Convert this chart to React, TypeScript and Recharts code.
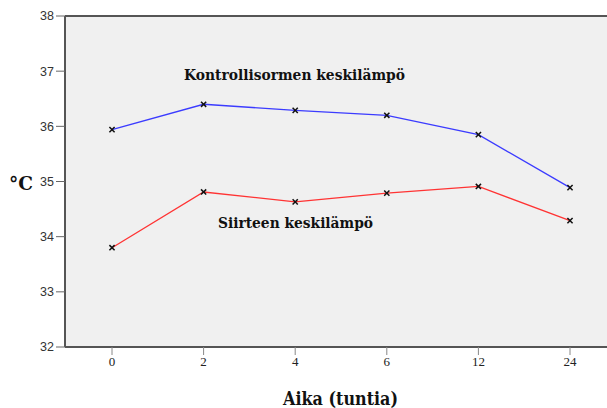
import React from 'react';
import { LineChart, Line, XAxis, YAxis, CartesianGrid, ReferenceLine, Customized } from 'recharts';

const hours = ['0', '2', '4', '6', '12', '24'];
const kontrolli = [35.94, 36.4, 36.29, 36.2, 35.85, 34.89];
const siirre = [33.8, 34.81, 34.63, 34.79, 34.91, 34.29];
const yTicks = [32, 33, 34, 35, 36, 37, 38];

const data = hours.map((h, i) => ({ h, k: kontrolli[i], s: siirre[i] }));

const SERIF = '"Liberation Serif", "Times New Roman", serif';
const WIDESERIF = '"DejaVu Serif", serif';

const Cross = (props: any) => {
  const { cx, cy } = props;
  if (cx == null || cy == null) return null;
  const r = 2.6;
  return (
    <g>
      <line x1={cx - r} y1={cy - r} x2={cx + r} y2={cy + r} stroke="#111" strokeWidth={1.5} />
      <line x1={cx - r} y1={cy + r} x2={cx + r} y2={cy - r} stroke="#111" strokeWidth={1.5} />
    </g>
  );
};

const tStyle: React.CSSProperties = { fontFamily: WIDESERIF, fontWeight: 'bold', fill: '#111' };

const Texts = () => (
  <g>
    <text x={184} y={80} textLength={221} lengthAdjust="spacingAndGlyphs" style={{ ...tStyle, fontSize: 14 }}>Kontrollisormen keskilämpö</text>
    <text x={218} y={228} textLength={155} lengthAdjust="spacingAndGlyphs" style={{ ...tStyle, fontSize: 14 }}>Siirteen keskilämpö</text>
    <text x={9} y={190} textLength={24} lengthAdjust="spacingAndGlyphs" style={{ ...tStyle, fontSize: 19 }}>°C</text>
    <text x={283} y={405} textLength={115} lengthAdjust="spacingAndGlyphs" style={{ ...tStyle, fontSize: 18 }}>Aika (tuntia)</text>
  </g>
);

export default function App() {
  return (
    <div style={{ position: 'absolute', left: 0, top: 0, background: '#fff' }}>
      <LineChart width={607} height={408} data={data} margin={{ top: 16, right: 0, bottom: 31, left: 0 }}>
        <CartesianGrid fill="#f0f0f0" stroke="none" horizontal={false} vertical={false} />
        <XAxis
          dataKey="h"
          type="category"
          padding={{ left: 47, right: 37 }}
          height={30}
          axisLine={{ stroke: '#555', strokeWidth: 2 }}
          tickLine={{ stroke: '#888' }}
          tickSize={8}
          tick={{ fill: '#222', fontSize: 13, style: { fontFamily: SERIF } }}
          interval={0}
        />
        <YAxis
          domain={[32, 38]}
          ticks={yTicks}
          width={65}
          axisLine={{ stroke: '#555', strokeWidth: 2 }}
          tickLine={{ stroke: '#666' }}
          tickSize={9}
          tick={{ fill: '#333', fontSize: 12.5, style: { fontFamily: '"Liberation Sans", Arial, sans-serif' } }}
          allowDataOverflow
        />
        <ReferenceLine y={38} stroke="#555" strokeWidth={2} />
        <Line dataKey="k" stroke="#3b3bff" strokeWidth={1.3} dot={<Cross />} activeDot={false} isAnimationActive={false} />
        <Line dataKey="s" stroke="#ff3333" strokeWidth={1.3} dot={<Cross />} activeDot={false} isAnimationActive={false} />
        <Customized component={Texts} />
      </LineChart>
    </div>
  );
}
